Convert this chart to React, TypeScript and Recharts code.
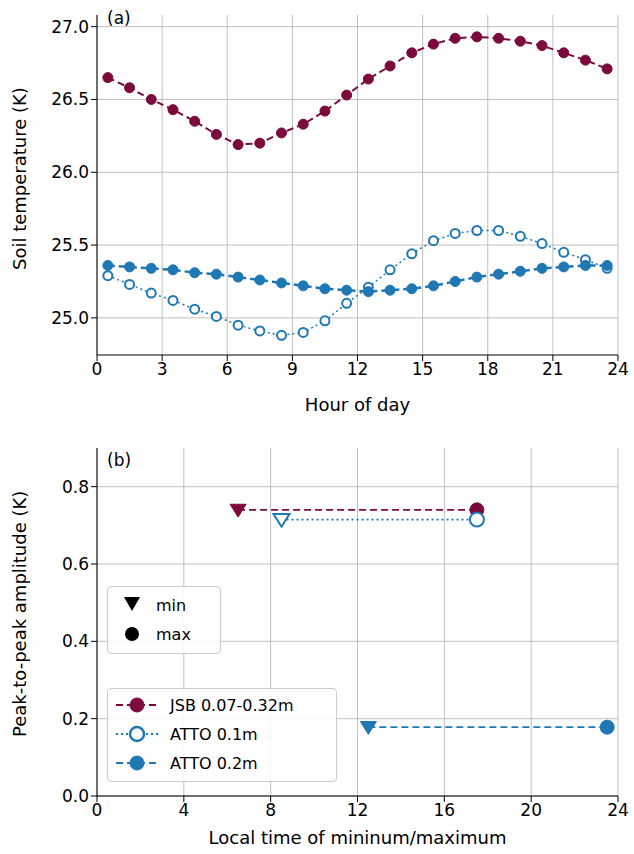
import React from "react"
import { ComposedChart, Line, XAxis, YAxis, CartesianGrid, Scatter } from "recharts"

const hours = [0.5, 1.5, 2.5, 3.5, 4.5, 5.5, 6.5, 7.5, 8.5, 9.5, 10.5, 11.5, 12.5, 13.5, 14.5, 15.5, 16.5, 17.5, 18.5, 19.5, 20.5, 21.5, 22.5, 23.5]
const jsb = [26.65, 26.58, 26.5, 26.43, 26.35, 26.26, 26.19, 26.2, 26.27, 26.33, 26.42, 26.53, 26.64, 26.73, 26.82, 26.88, 26.92, 26.93, 26.92, 26.9, 26.87, 26.82, 26.77, 26.71]
const atto01 = [25.29, 25.23, 25.17, 25.12, 25.06, 25.01, 24.95, 24.91, 24.88, 24.9, 24.98, 25.1, 25.21, 25.33, 25.44, 25.53, 25.58, 25.6, 25.6, 25.56, 25.51, 25.45, 25.4, 25.34]
const atto02 = [25.36, 25.35, 25.34, 25.33, 25.31, 25.3, 25.28, 25.26, 25.24, 25.22, 25.2, 25.19, 25.18, 25.19, 25.2, 25.22, 25.25, 25.28, 25.3, 25.32, 25.34, 25.35, 25.36, 25.36]

const series = ["JSB 0.07-0.32m", "ATTO 0.1m", "ATTO 0.2m"]
const minTime = [6.5, 8.5, 12.5]
const maxTime = [17.5, 17.5, 23.5]
const amplitude = [0.74, 0.715, 0.178]

const topXTicks = [0, 3, 6, 9, 12, 15, 18, 21, 24]
const topYTicks = [25.0, 25.5, 26.0, 26.5, 27.0]
const botXTicks = [0, 4, 8, 12, 16, 20, 24]
const botYTicks = [0, 0.2, 0.4, 0.6, 0.8]

const MAROON = "#7b0a3d"
const BLUE = "#1f77b4"
const colors = [MAROON, BLUE, BLUE]
const dashes = ["7 4", "2 3", "7 4"]
const hollow = [false, true, false]

const font = "DejaVu Sans, sans-serif"
const tick = { fontSize: 17, fill: "#000", fontFamily: font }
const axisLine = { stroke: "#000", strokeWidth: 1 }
const tickLine = { stroke: "#000" }
const labelStyle = { fontSize: 18, fill: "#000", fontFamily: font }

const topData = hours.map((h, i) => ({ h, jsb: jsb[i], a1: atto01[i], a2: atto02[i] }))

const dot = (color: string, open: boolean, r: number) => (p: any) => (
  <circle key={p.cx + "-" + p.cy} cx={p.cx} cy={p.cy} r={r} fill={open ? "#fff" : color} stroke={color} strokeWidth={open ? 2 : 1} />
)

const tri = (color: string, open: boolean) => (p: any) => {
  const { cx, cy } = p
  const s = 8
  return <path d={`M${cx - s},${cy - s * 0.7} L${cx + s},${cy - s * 0.7} L${cx},${cy + s * 0.9} Z`} fill={open ? "#fff" : color} stroke={color} strokeWidth={open ? 2 : 1} />
}

function TopChart() {
  return (
    <ComposedChart width={634} height={420} data={topData} margin={{ top: 15, right: 16, bottom: 0, left: 0 }}>
      <CartesianGrid stroke="#b0b0b0" strokeWidth={0.8} verticalValues={topXTicks} horizontalValues={topYTicks} />
      <XAxis type="number" dataKey="h" domain={[0, 24]} ticks={topXTicks} tick={tick} axisLine={axisLine} tickLine={tickLine} tickSize={6} height={65}
        label={{ value: "Hour of day", position: "insideBottom", offset: 9, ...labelStyle }} />
      <YAxis type="number" domain={[24.745, 27.08]} ticks={topYTicks} width={97} tick={tick} axisLine={axisLine} tickLine={tickLine} tickSize={6}
        tickFormatter={(v: number) => v.toFixed(1)}
        label={{ value: "Soil temperature (K)", angle: -90, position: "insideLeft", offset: 20, dy: 85, ...labelStyle }} />
      <Line dataKey="jsb" stroke={MAROON} strokeWidth={2} strokeDasharray="7 4" dot={dot(MAROON, false, 5)} isAnimationActive={false} />
      <Line dataKey="a1" stroke={BLUE} strokeWidth={1.5} strokeDasharray="2 3" dot={dot(BLUE, true, 4.5)} isAnimationActive={false} />
      <Line dataKey="a2" stroke={BLUE} strokeWidth={2.5} strokeDasharray="7 4" dot={dot(BLUE, false, 5)} isAnimationActive={false} />
    </ComposedChart>
  )
}

function BottomChart() {
  return (
    <ComposedChart width={634} height={434} margin={{ top: 28, right: 16, bottom: 0, left: 0 }}>
      <CartesianGrid stroke="#b0b0b0" strokeWidth={0.8} verticalValues={botXTicks} horizontalValues={botYTicks} />
      <XAxis type="number" dataKey="x" domain={[0, 24]} ticks={botXTicks} tick={tick} axisLine={axisLine} tickLine={tickLine} tickSize={6} height={58}
        label={{ value: "Local time of mininum/maximum", position: "insideBottom", offset: 10, ...labelStyle }} />
      <YAxis type="number" dataKey="y" domain={[0, 0.9]} ticks={botYTicks} width={97} tick={tick} axisLine={axisLine} tickLine={tickLine} tickSize={6}
        tickFormatter={(v: number) => v.toFixed(1)}
        label={{ value: "Peak-to-peak amplitude (K)", angle: -90, position: "insideLeft", offset: 20, dy: 115, ...labelStyle }} />
      {series.map((s, i) => (
        <Line key={s} data={[{ x: minTime[i], y: amplitude[i] }, { x: maxTime[i], y: amplitude[i] }]} dataKey="y" stroke={colors[i]}
          strokeWidth={1.8} strokeDasharray={dashes[i]} dot={false} isAnimationActive={false} />
      ))}
      {series.map((s, i) => (
        <Scatter key={s + "min"} data={[{ x: minTime[i], y: amplitude[i] }]} shape={tri(colors[i], hollow[i])} isAnimationActive={false} />
      ))}
      {series.map((s, i) => (
        <Scatter key={s + "max"} data={[{ x: maxTime[i], y: amplitude[i] }]} shape={dot(colors[i], hollow[i], 7)} isAnimationActive={false} />
      ))}
    </ComposedChart>
  )
}

const box: React.CSSProperties = { position: "absolute", background: "rgba(255,255,255,0.85)", border: "1px solid #ccc", borderRadius: 4, fontFamily: font, fontSize: 16 }

export default function App() {
  return (
    <div style={{ position: "fixed", left: 0, top: 0, width: 634, height: 854, background: "#fff" }}>
      <TopChart />
      <div style={{ position: "absolute", top: 420 }}><BottomChart /></div>
      <div style={{ position: "absolute", left: 107, top: 8, fontFamily: font, fontSize: 17 }}>(a)</div>
      <div style={{ position: "absolute", left: 107, top: 450, fontFamily: font, fontSize: 17 }}>(b)</div>
      <div style={{ ...box, left: 107, top: 586, width: 112, height: 66 }}>
        <svg width={112} height={66}>
          <path d="M16,10 L32,10 L24,24 Z" fill="#000" />
          <text x={48} y={24} fontSize={16} fontFamily={font}>min</text>
          <circle cx={24} cy={47} r={7} fill="#000" />
          <text x={48} y={53} fontSize={16} fontFamily={font}>max</text>
        </svg>
      </div>
      <div style={{ ...box, left: 107, top: 688, width: 228, height: 92 }}>
        <svg width={228} height={92}>
          {series.map((s, i) => {
            const y = 16 + i * 29
            return (
              <g key={s}>
                <line x1={8} x2={50} y1={y} y2={y} stroke={colors[i]} strokeWidth={1.8} strokeDasharray={dashes[i]} />
                <circle cx={29} cy={y} r={7} fill={hollow[i] ? "#fff" : colors[i]} stroke={colors[i]} strokeWidth={hollow[i] ? 2.5 : 1} />
                <text x={62} y={y + 6} fontSize={16} fontFamily={font}>{s}</text>
              </g>
            )
          })}
        </svg>
      </div>
    </div>
  )
}
